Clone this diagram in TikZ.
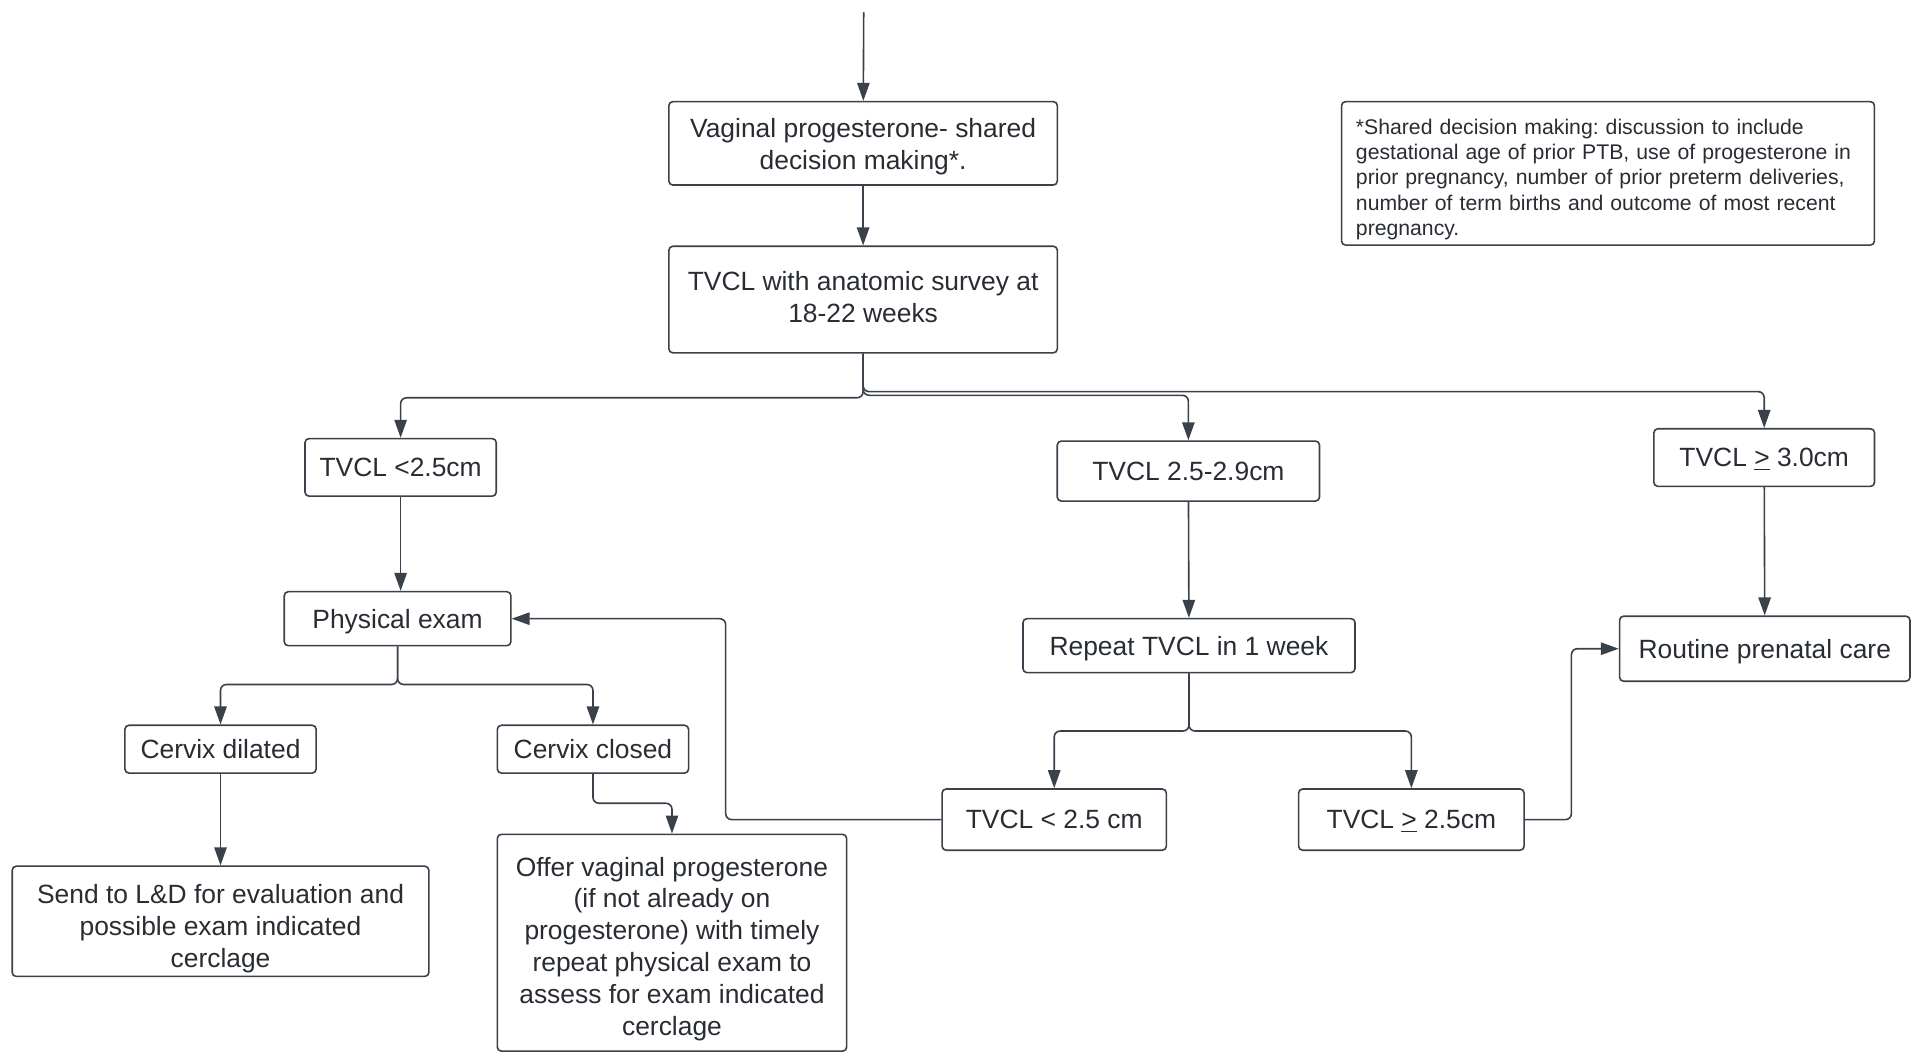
\documentclass[tikz,border=0pt]{standalone}
\usepackage{fontspec}
\setmainfont{Liberation Sans}
\frenchspacing
\usetikzlibrary{arrows.meta}
\definecolor{linec}{HTML}{3A414A}
\definecolor{textc}{HTML}{282C33}
\newcommand\topstrut[1]{\rule{0pt}{#1}}
\newcommand\ulge{\raisebox{0pt}[\height][0pt]{\underline{>}}}
\tikzset{
  box/.style={draw=linec, line width=0.8pt, rounded corners=2pt, text=textc,
    align=center, inner sep=0pt, text depth=0pt, font=\fontsize{13.2}{15.9}\selectfont},
  arr/.style={draw=linec, line width=0.8pt, rounded corners=3pt,
    -{Triangle[length=9pt,width=6.2pt]}},
}
\begin{document}
\begin{tikzpicture}[x=0.6125pt,y=-0.6125pt]
\useasboundingbox (0,0) rectangle (1568,859.5);
\coordinate(start) at (705,10);
%
\node[box, minimum width=194.2pt, minimum height=41.7pt](vp) at (704.5,117)
  {\topstrut{10.4pt}Vaginal progesterone- shared\\decision making*.};
\draw[arr](start) -- (vp);
%
\node[box, minimum width=194.2pt, minimum height=53.3pt, text depth=2.4pt](survey) at (704.5,244.5)
  {TVCL with anatomic survey at\\18-22 weeks};
\draw[arr](vp) -- (survey);
%
\node[box, minimum width=266.4pt, minimum height=71.7pt, align=left, text depth=,
  text width=252pt, inner xsep=7.2pt, font=\fontsize{10.6}{12.7}\selectfont](note) at (1312.5,141.5)
  {\topstrut{13.7pt}*Shared decision making: discussion to include\\gestational age of prior PTB, use of progesterone in\\prior pregnancy, number of prior preterm deliveries,\\number of term births and outcome of most recent\\pregnancy.};
%
\node[box, minimum width=95.6pt, minimum height=28.8pt](lt25) at (327,381.5) {TVCL <2.5cm};
\node[box, minimum width=131.1pt, minimum height=30pt](mid) at (970,384.5) {TVCL 2.5-2.9cm};
\node[box, minimum width=110.3pt, minimum height=28.8pt](ge30) at (1440,373.5) {TVCL \ulge{} 3.0cm};
\draw[arr](survey.south) -- ++(0,36) -| (lt25.north);
\draw[arr](survey.south) -- ++(0,34) -| (mid.north);
\draw[arr](survey.south) -- ++(0,31) -| (ge30.north);
%
\node[box, minimum width=113.3pt, minimum height=27pt](phys) at (324.5,505) {Physical exam};
\draw[arr](lt25.south) -- (lt25.south |- phys.north);
%
\node[box, minimum width=166pt, minimum height=27pt](repeat) at (970.5,527) {Repeat TVCL in 1 week};
\draw[arr](mid) -- (repeat);
%
\node[box, minimum width=145.2pt, minimum height=32.5pt](routine) at (1440.5,529.5) {Routine prenatal care};
\draw[arr](ge30) -- (routine);
%
\node[box, minimum width=95.6pt, minimum height=23.9pt](dilated) at (180,611.5) {Cervix dilated};
\node[box, minimum width=95.6pt, minimum height=23.9pt](closed) at (484,611.5) {Cervix closed};
\draw[arr](phys.south) -- ++(0,31) -| (dilated.north);
\draw[arr](phys.south) -- ++(0,31) -| (closed.north);
%
\node[box, minimum width=112.1pt, minimum height=30.6pt](lt25b) at (860.5,669) {TVCL < 2.5 cm};
\node[box, minimum width=112.7pt, minimum height=30.6pt](ge25) at (1152,669) {TVCL \ulge{} 2.5cm};
\draw[arr](repeat.south) -- ++(0,47) -| (lt25b.north);
\draw[arr](repeat.south) -- ++(0,47) -| (ge25.north);
\draw[arr](lt25b.west) -- ++(-176,0) |- (phys.east);
\draw[arr](ge25.east) -- ++(38,0) |- (routine.west);
%
\node[box, minimum width=208.3pt, minimum height=55.1pt](send) at (180,752)
  {\topstrut{14.1pt}Send to L\&D for evaluation and\\possible exam indicated\\cerclage};
\draw[arr](dilated) -- (send);
%
\node[box, minimum width=174.6pt, minimum height=108.4pt](offer) at (548.5,769.5)
  {\topstrut{12.9pt}Offer vaginal progesterone\\(if not already on\\progesterone) with timely\\repeat physical exam to\\assess for exam indicated\\cerclage};
\draw[arr](closed.south) -- ++(0,24) -| (offer.north);
\end{tikzpicture}
\end{document}
